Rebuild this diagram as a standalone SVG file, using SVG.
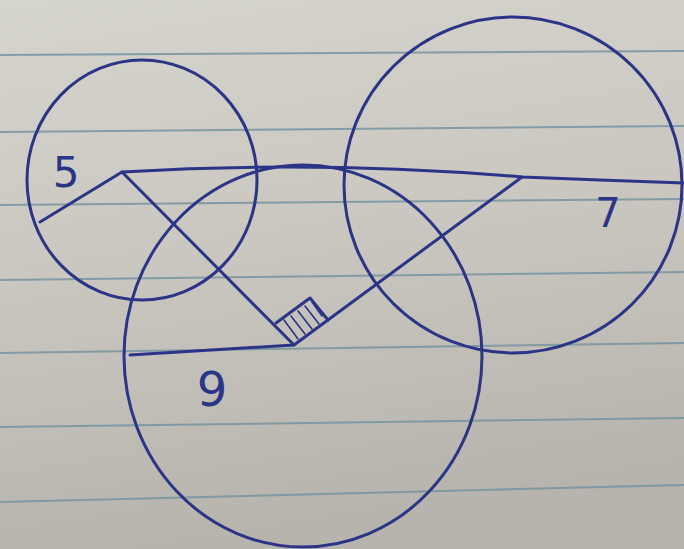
<svg xmlns="http://www.w3.org/2000/svg" width="684" height="549" viewBox="0 0 684 549">
<defs>
<linearGradient id="paper" x1="0" y1="0" x2="0.2" y2="1">
<stop offset="0" stop-color="#d6d5cd"/>
<stop offset="0.5" stop-color="#c9c7bf"/>
<stop offset="1" stop-color="#b6b4ac"/>
</linearGradient>
<style>
.rule{stroke:#7893a0;stroke-width:2;fill:none;opacity:0.85}
.ink{stroke:#2b3487;stroke-width:3;fill:none;stroke-linecap:round;stroke-linejoin:round}
.hatch{stroke:#2b3487;stroke-width:1.6;fill:none;stroke-linecap:round}
.lbl{font-family:"DejaVu Sans","Liberation Sans",sans-serif;fill:#2b3487;text-anchor:middle}
</style>
</defs>
<rect x="0" y="0" width="684" height="549" fill="url(#paper)"/>
<g id="paper-lines">
<line class="rule" x1="0" y1="55" x2="684" y2="51"/>
<line class="rule" x1="0" y1="132" x2="684" y2="126"/>
<line class="rule" x1="0" y1="205" x2="684" y2="199"/>
<line class="rule" x1="0" y1="280" x2="684" y2="272"/>
<line class="rule" x1="0" y1="353" x2="684" y2="343"/>
<line class="rule" x1="0" y1="427" x2="684" y2="418"/>
<line class="rule" x1="0" y1="502" x2="684" y2="485"/>
</g>
<g id="circle-5">
<ellipse class="ink" cx="142" cy="180" rx="115" ry="120"/>
</g>
<g id="circle-7">
<ellipse class="ink" cx="513" cy="185" rx="169" ry="168"/>
</g>
<g id="circle-9">
<ellipse class="ink" cx="303" cy="356" rx="179" ry="191"/>
</g>
<g id="segments">
<path class="ink" d="M122,172 Q320,160 522,177 L600,180 L684,183"/>
<path class="ink" d="M40,222 L122,172 L294,345 L522,177"/>
<path class="ink" d="M130,355 L294,345"/>
</g>
<g id="right-angle">
<path class="ink" d="M276,323 L310,298 L328,320"/>
<path class="hatch" d="M284,320 L298,339 M291,316 L305,334 M298,311 L312,329 M305,306 L319,324 M312,302 L322,316"/>
</g>
<g id="labels">
<text class="lbl" x="66" y="187" font-size="42">5</text>
<text class="lbl" x="608" y="227" font-size="40">7</text>
<text class="lbl" x="212" y="406" font-size="48">9</text>
</g>
</svg>
